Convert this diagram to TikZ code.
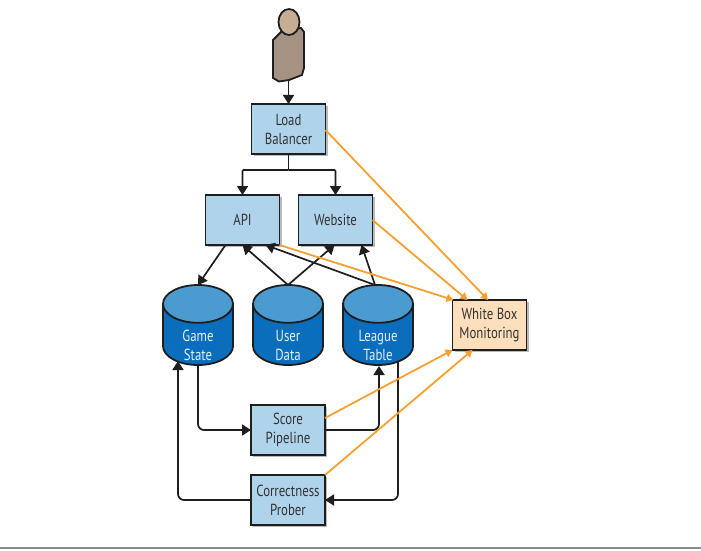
\documentclass[tikz,border=0pt]{standalone}
\usepackage{fontspec}
\setmainfont[FakeStretch=0.8]{PT Sans}
\usepackage{xcolor}
\usetikzlibrary{positioning,arrows.meta,shapes.geometric,shadows}
\definecolor{boxblue}{HTML}{B0D3EC}
\definecolor{boxorange}{HTML}{FDDFBB}
\definecolor{storeblue}{HTML}{0A6EBD}
\definecolor{storetop}{HTML}{4C9BD0}
\definecolor{wireorange}{HTML}{F7A030}
\definecolor{inkdark}{HTML}{1E1E1E}
\definecolor{bodytan}{HTML}{A49282}
\definecolor{headtan}{HTML}{C6AE94}
\begin{document}
\begin{tikzpicture}[x=1pt,y=1pt,
  box/.style={draw=inkdark,line width=1.8pt,fill=boxblue,align=center,font=\fontsize{16}{19}\selectfont,text=black!80,
    minimum width=74pt,minimum height=50pt,inner sep=2pt,outer sep=0pt,
    drop shadow={shadow xshift=2pt,shadow yshift=-2pt,opacity=.45,fill=black!60}},
  monbox/.style={box,fill=boxorange},
  store/.style={cylinder,shape border rotate=90,draw=inkdark,line width=1.8pt,aspect=.9,
    minimum width=70pt,minimum height=80pt,inner xsep=21pt,inner ysep=0pt,outer sep=0pt,
    cylinder uses custom fill,cylinder body fill=storeblue,cylinder end fill=storetop},
  storelabel/.style={align=center,font=\fontsize{16}{19}\selectfont,text=white!85!storetop,inner sep=0pt},
  dep/.style={-{Triangle[length=9pt,width=11pt]},line width=1.7pt,draw=inkdark,rounded corners=6pt},
  mon/.style={-{Triangle[length=7pt,width=8pt]},line width=1.8pt,draw=wireorange}]
\useasboundingbox (0,0) rectangle (701,550);
\draw[black!45,line width=1.5pt] (0,2) -- (701,2);
% user at the top
\filldraw[fill=bodytan,draw=inkdark,line width=1.8pt] (281.5,518.5) -- (301,522) -- (304,518) -- (304,482)
  -- (302,475) -- (289,470) -- (279,468.5) -- (273,472) -- (273,510) -- cycle;
\filldraw[fill=headtan,draw=inkdark,line width=1.8pt] (289,528) ellipse (10.5 and 13);
\coordinate (user) at (288.5,469);
% boxes
\node[box] (lb) at (288.5,421) {Load\\Balancer};
\node[box,below=41pt of lb,xshift=-46pt] (api) {API};
\node[box,below=41pt of lb,xshift=47pt] (web) {Website};
\node[store,below=40pt of api,xshift=-44.5pt] (game) {};
\node[store,right=20pt of game] (udata) {};
\node[store,right=20pt of udata] (league) {};
\node[storelabel] (gamelbl) at ([yshift=20pt]game.south) {Game\\State};
\node[storelabel] (udatalbl) at ([yshift=20pt]udata.south) {User\\Data};
\node[storelabel] (leaguelbl) at ([yshift=20pt]league.south) {League\\Table};
\node[box] (score) at (288,120) {Score\\Pipeline};
\node[box,below=20pt of score] (prober) {Correctness\\Prober};
\node[monbox] (white) at (489.5,225) {White Box\\Monitoring};
\coordinate (fork) at (288.5,380);
% black arrows
\draw[dep] (user) -- (lb);
\draw[line width=1.7pt,draw=inkdark] (lb) -- (fork);
\draw[dep,rounded corners=1pt] (fork) -| (api);
\draw[dep,rounded corners=1pt] (fork) -| (web);
\draw[dep] ([xshift=-17pt]api.south) -- (game.north);
\draw[dep] (udata.north) -- (api.south);
\draw[dep] (udata.north) -- ([xshift=-1pt]web.south);
\draw[dep] ([xshift=-3pt]league.north) -- ([xshift=23pt]api.south);
\draw[dep] ([xshift=-3pt]league.north) -- ([xshift=26pt]web.south);
\draw[dep] ([yshift=1pt]game.south) |- (score);
\draw[dep] (score) -| ([xshift=1pt,yshift=-1pt]league.south);
\draw[dep] (prober) -| ([xshift=-20pt,yshift=4pt]game.south);
\draw[dep] ([xshift=20pt,yshift=4pt]league.south) |- (prober);
% orange arrows
\draw[mon] ([yshift=-1pt]lb.east) -- ([xshift=-1.5pt]white.north);
\draw[mon] (web.east) -- ([xshift=-22pt]white.north);
\draw[mon] (api.south east) -- ([xshift=1pt]white.north west);
\draw[mon] ([yshift=12pt]score.east) -- (white.south west);
\draw[mon] (prober.north east) -- ([xshift=20pt]white.south west);
\end{tikzpicture}
\end{document}
